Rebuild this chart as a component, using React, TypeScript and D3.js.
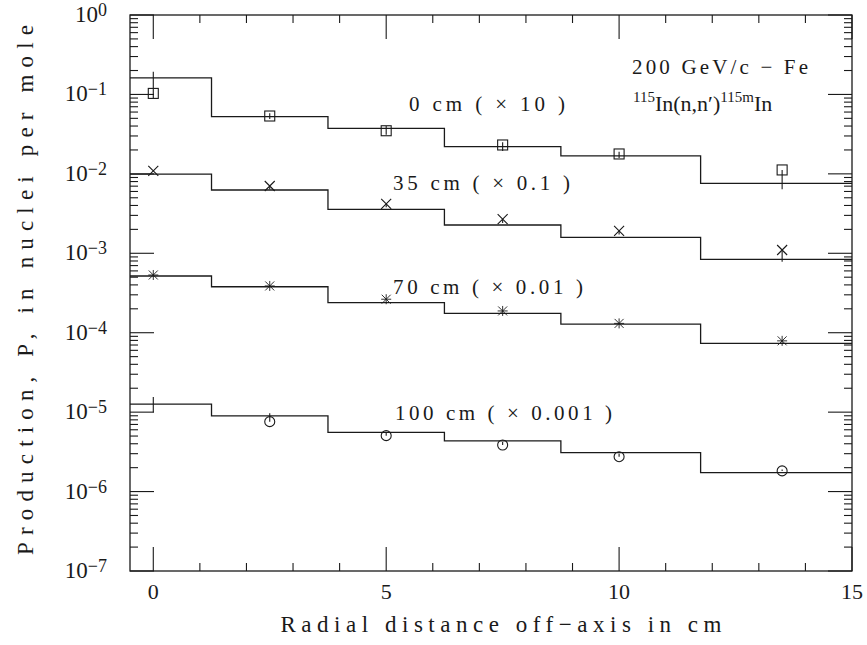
import React from 'react';
import * as d3 from 'd3';

// bin edges (cm) and histogram levels
const binEdges = [-0.5, 1.25, 3.75, 6.25, 8.75, 11.75, 15];
const pointX = [0, 2.5, 5, 7.5, 10, 13.5];

const hist0 = [0.162, 0.0525, 0.0374, 0.022, 0.0168, 0.0076];
const hist35 = [0.00995, 0.00626, 0.00358, 0.00227, 0.00159, 0.00084];
const hist70 = [0.000518, 0.000379, 0.000239, 0.000175, 0.000128, 7.36e-5];
const hist100 = [1.26e-5, 9.0e-6, 5.57e-6, 4.34e-6, 3.09e-6, 1.73e-6];

// measured points
const pts0 = [0.103, 0.0535, 0.0349, 0.0231, 0.0178, 0.0112];
const lo0 = [0.09, 0.049, 0.031, 0.0194, 0.0158, 0.0064];
const hi0 = [0.193, 0.058, 0.04, 0.025, 0.019, 0.0112];

const pts35 = [0.0109, 0.00703, 0.00418, 0.0027, 0.00191, 0.0011];
const lo35 = [0.0109, 0.0064, 0.0038, 0.0024, 0.00172, 0.00078];
const hi35 = [0.0109, 0.00703, 0.00418, 0.0027, 0.00191, 0.0011];

const pts70 = [0.000533, 0.000388, 0.000264, 0.000188, 0.000131, 7.9e-5];

const pts100 = [null, 7.59e-6, 5.06e-6, 3.86e-6, 2.75e-6, 1.82e-6];
const lo100 = [1.0e-5, 7.59e-6, 5.06e-6, 3.86e-6, 2.75e-6, 1.82e-6];
const hi100 = [1.55e-5, 9.7e-6, 5.5e-6, 4.2e-6, 3.0e-6, 1.9e-6];

const seriesLabels = ['0 cm ( × 10 )', '35 cm ( × 0.1 )', '70 cm ( × 0.01 )', '100 cm ( × 0.001 )'];

const W = 867;
const H = 645;
const M = { left: 130, right: 852, top: 15, bottom: 571 };
const FONT = '"Liberation Serif", "Times New Roman", serif';
const INK = '#1a1a1a';

const x = d3.scaleLinear().domain([-0.5, 15]).range([M.left, M.right]);
const y = d3.scaleLog().domain([1e-7, 1]).range([M.bottom, M.top]);

const step = d3.line<[number, number]>()
  .x(d => x(d[0]))
  .y(d => y(d[1]))
  .curve(d3.curveStepAfter);

function histPath(levels: number[]) {
  const pts: [number, number][] = binEdges.map((e, i) => [e, levels[Math.min(i, levels.length - 1)]]);
  return step(pts) || '';
}

type Shape = 'square' | 'cross' | 'star' | 'circle';

function Marker({ cx, cy, shape }: { cx: number; cy: number; shape: Shape }) {
  const s = 5;
  if (shape === 'square') return <rect x={cx - s} y={cy - s} width={2 * s} height={2 * s} fill="none" stroke={INK} strokeWidth={1.1} />;
  if (shape === 'circle') return <circle cx={cx} cy={cy} r={s} fill="none" stroke={INK} strokeWidth={1.1} />;
  if (shape === 'cross')
    return <path d={`M${cx - s},${cy - s}L${cx + s},${cy + s}M${cx - s},${cy + s}L${cx + s},${cy - s}`} stroke={INK} strokeWidth={1.1} />;
  const a = 4.5;
  return (
    <path
      d={`M${cx},${cy - s}V${cy + s}M${cx - s},${cy}H${cx + s}M${cx - a},${cy - a}L${cx + a},${cy + a}M${cx - a},${cy + a}L${cx + a},${cy - a}`}
      stroke={INK}
      strokeWidth={0.9}
    />
  );
}

function Points({ vals, lo, hi, shape }: { vals: (number | null)[]; lo?: number[]; hi?: number[]; shape: Shape }) {
  return (
    <g>
      {pointX.map((px, i) => (
        <g key={i}>
          {lo && hi && lo[i] !== hi[i] && (
            <line x1={x(px)} x2={x(px)} y1={y(lo[i])} y2={y(hi[i])} stroke={INK} strokeWidth={1.1} />
          )}
          {vals[i] != null && <Marker cx={x(px)} cy={y(vals[i] as number)} shape={shape} />}
        </g>
      ))}
    </g>
  );
}

export default function App() {
  const yTicks = y.ticks();
  const xTicks = d3.range(0, 16, 1);
  const isMajorY = (v: number) => Math.abs(Math.log10(v) - Math.round(Math.log10(v))) < 1e-6;

  return (
    <svg width={W} height={H} style={{ position: 'absolute', left: 0, top: 0, background: '#fff' }} fontFamily={FONT}>
      <rect x={0} y={0} width={W} height={H} fill="#fff" />

      {/* y ticks, left and right */}
      {yTicks.map((v, i) => {
        const len = isMajorY(v) ? 24 : 8;
        const yy = y(v);
        return (
          <g key={'y' + i} stroke={INK} strokeWidth={1.1}>
            <line x1={M.left} x2={M.left + len} y1={yy} y2={yy} />
            <line x1={M.right} x2={M.right - len} y1={yy} y2={yy} />
          </g>
        );
      })}
      {/* x ticks, bottom and top */}
      {xTicks.map(v => {
        const len = v % 5 === 0 ? 24 : 8;
        const xx = x(v);
        return (
          <g key={'x' + v} stroke={INK} strokeWidth={1.1}>
            <line x1={xx} x2={xx} y1={M.bottom} y2={M.bottom - len} />
            <line x1={xx} x2={xx} y1={M.top} y2={M.top + len} />
          </g>
        );
      })}

      <rect x={M.left} y={M.top} width={M.right - M.left} height={M.bottom - M.top} fill="none" stroke={INK} strokeWidth={1.3} />

      {/* y tick labels */}
      {yTicks.filter(isMajorY).map(v => {
        const e = Math.round(Math.log10(v));
        return (
          <text key={'yl' + e} x={107} y={y(v) + 7} textAnchor="end" fontSize={23} fill={INK}>
            10
            <tspan dy={-6} fontSize={18}>{e === 0 ? '0' : '−' + Math.abs(e)}</tspan>
          </text>
        );
      })}
      {/* x tick labels */}
      {xTicks.filter(v => v % 5 === 0).map(v => (
        <text key={'xl' + v} x={x(v)} y={599} textAnchor="middle" fontSize={22} fill={INK}>
          {v}
        </text>
      ))}

      {/* histograms */}
      {[hist0, hist35, hist70, hist100].map((h, i) => (
        <path key={'h' + i} d={histPath(h)} fill="none" stroke={INK} strokeWidth={1.3} />
      ))}

      <Points vals={pts0} lo={lo0} hi={hi0} shape="square" />
      <Points vals={pts35} lo={lo35} hi={hi35} shape="cross" />
      <Points vals={pts70} shape="star" />
      <Points vals={pts100} lo={lo100} hi={hi100} shape="circle" />

      {/* series labels */}
      <text x={409} y={111} fontSize={21} fill={INK} textLength={156} lengthAdjust="spacing">{seriesLabels[0]}</text>
      <text x={393} y={190} fontSize={21} fill={INK} textLength={177} lengthAdjust="spacing">{seriesLabels[1]}</text>
      <text x={393} y={294} fontSize={21} fill={INK} textLength={190} lengthAdjust="spacing">{seriesLabels[2]}</text>
      <text x={395} y={420} fontSize={21} fill={INK} textLength={217} lengthAdjust="spacing">{seriesLabels[3]}</text>

      <text x={632} y={74} fontSize={21} fill={INK} textLength={176} lengthAdjust="spacing">200 GeV/c − Fe</text>
      <text x={633} y={111} fontSize={22} fill={INK}>
        <tspan fontSize={15} dy={-9}>115</tspan>
        <tspan dy={9}>In(n,n′)</tspan>
        <tspan fontSize={15} dy={-9}>115m</tspan>
        <tspan dy={9}>In</tspan>
      </text>

      {/* axis titles */}
      <text x={501} y={632} textAnchor="middle" fontSize={23} fill={INK} textLength={441} lengthAdjust="spacing">
        Radial distance off−axis in cm
      </text>
      <text transform="translate(33,290) rotate(-90)" textAnchor="middle" fontSize={23} fill={INK} textLength={530} lengthAdjust="spacing">
        Production, P, in nuclei per mole
      </text>
    </svg>
  );
}
